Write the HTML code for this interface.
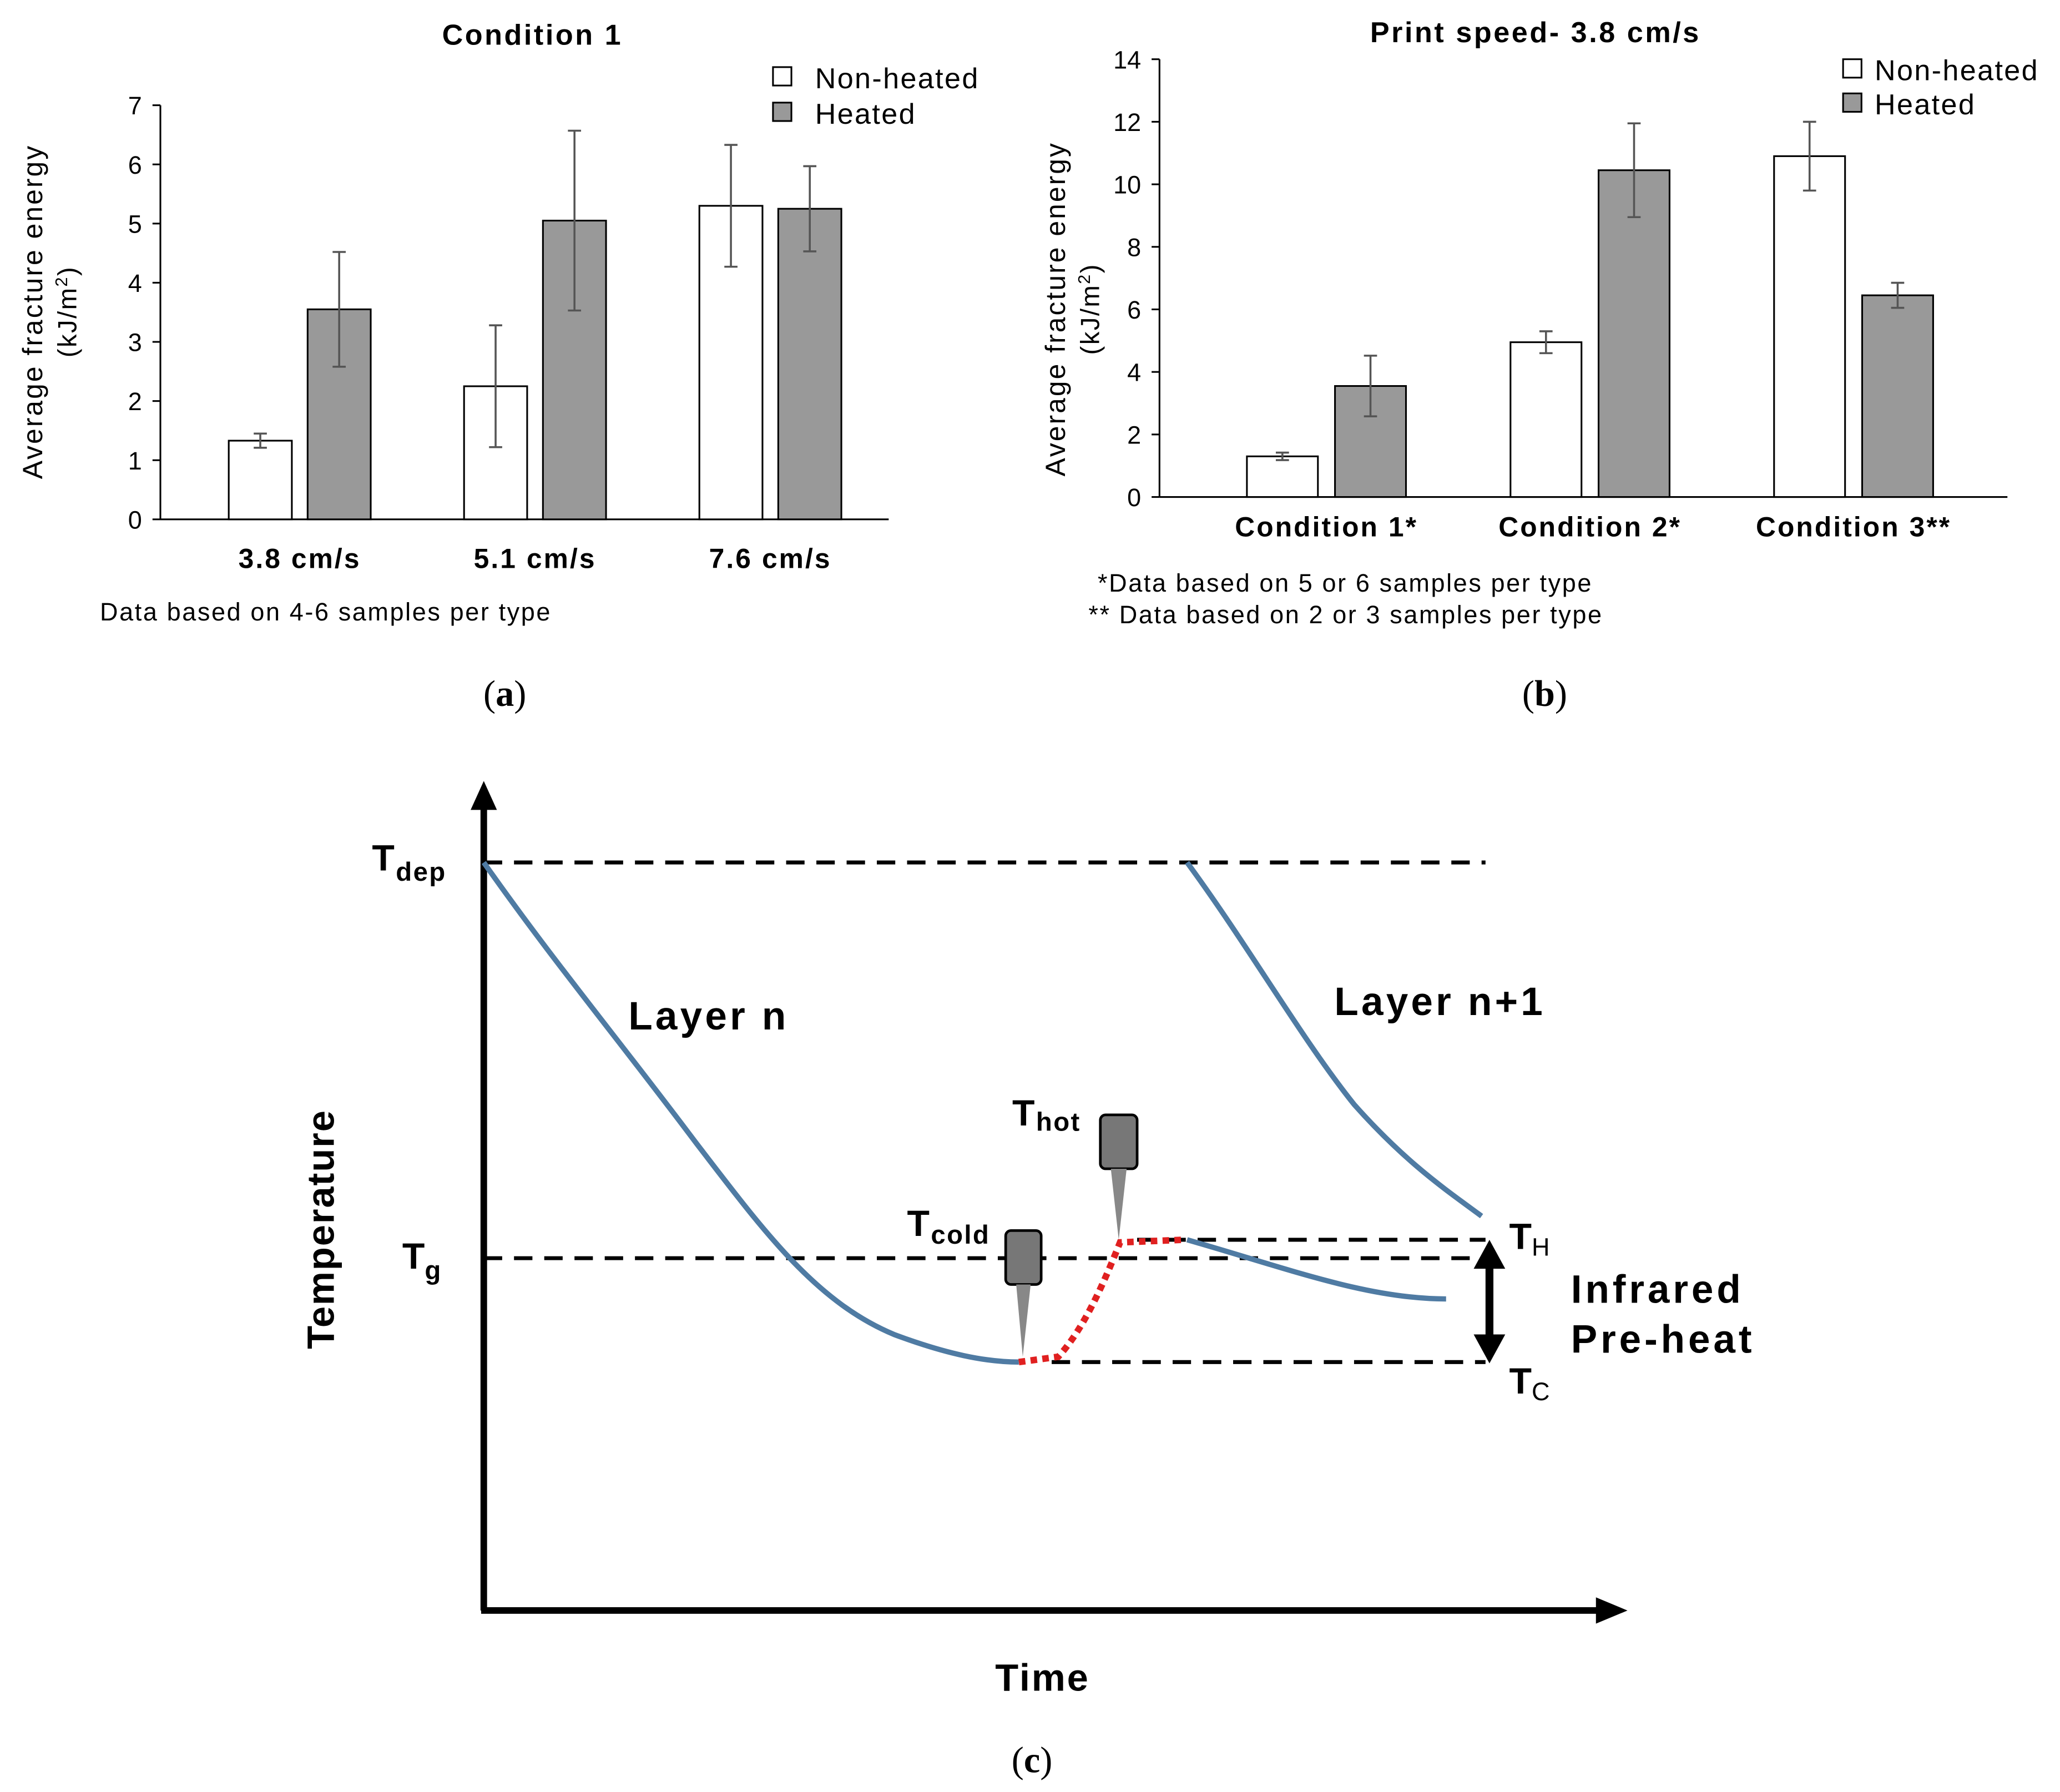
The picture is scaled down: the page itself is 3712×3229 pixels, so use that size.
<!DOCTYPE html>
<html><head><meta charset="utf-8"><style>
html,body{margin:0;padding:0;background:#fff}
svg{display:block}
text{font-family:"Liberation Sans",sans-serif}
</style></head><body>
<svg id="s" xmlns="http://www.w3.org/2000/svg" width="3712" height="3229" viewBox="0 0 1567 1363">
<rect width="1567" height="1363" fill="#fff"/>
<g id="ca">
<text x="405" y="34" font-size="22" font-weight="bold" letter-spacing="1.5" text-anchor="middle">Condition 1</text>
<text transform="translate(32,237) rotate(-90)" font-size="21" letter-spacing="1.3" text-anchor="middle">Average fracture energy</text>
<text transform="translate(58,237) rotate(-90)" font-size="20" letter-spacing="1" text-anchor="middle">(kJ/m<tspan font-size="13" dy="-7">2</tspan><tspan dy="7">)</tspan></text>
<rect x="588" y="51" width="14" height="14" fill="#fff" stroke="#000" stroke-width="1.3"/>
<text x="620" y="67" font-size="22" letter-spacing="1">Non-heated</text>
<rect x="588" y="78" width="14" height="14" fill="#999" stroke="#000" stroke-width="1.3"/>
<text x="620" y="94" font-size="22" letter-spacing="1">Heated</text>
<text x="76" y="472" font-size="19" letter-spacing="1.1">Data based on 4-6 samples per type</text>
</g>
<g id="cb">
<text x="1168" y="32" font-size="22" font-weight="bold" letter-spacing="1.5" text-anchor="middle">Print speed- 3.8 cm/s</text>
<text transform="translate(810,235) rotate(-90)" font-size="21" letter-spacing="1.3" text-anchor="middle">Average fracture energy</text>
<text transform="translate(836,235) rotate(-90)" font-size="20" letter-spacing="1" text-anchor="middle">(kJ/m<tspan font-size="13" dy="-7">2</tspan><tspan dy="7">)</tspan></text>
<rect x="1402" y="45" width="14" height="14" fill="#fff" stroke="#000" stroke-width="1.3"/>
<text x="1426" y="61" font-size="22" letter-spacing="1">Non-heated</text>
<rect x="1402" y="71" width="14" height="14" fill="#999" stroke="#000" stroke-width="1.3"/>
<text x="1426" y="87" font-size="22" letter-spacing="1">Heated</text>
<text x="835" y="450" font-size="19" letter-spacing="1.1">*Data based on 5 or 6 samples per type</text>
<text x="828" y="474" font-size="19" letter-spacing="1.1">** Data based on 2 or 3 samples per type</text>
</g>
<text x="384" y="537" font-size="28" text-anchor="middle" style="font-family:'Liberation Serif',serif">(<tspan font-weight="bold">a</tspan>)</text>
<text x="1175" y="537" font-size="28" text-anchor="middle" style="font-family:'Liberation Serif',serif">(<tspan font-weight="bold">b</tspan>)</text>
<text x="785" y="1348" font-size="28" text-anchor="middle" style="font-family:'Liberation Serif',serif">(<tspan font-weight="bold">c</tspan>)</text>

<g>
<line x1="368" y1="1225" x2="368" y2="612" stroke="#000" stroke-width="5"/>
<polygon points="368,594 358,616 378,616" fill="#000"/>
<line x1="366" y1="1225" x2="1218" y2="1225" stroke="#000" stroke-width="5"/>
<polygon points="1238,1225 1214,1215 1214,1235" fill="#000"/>
<g stroke="#000" stroke-width="3" stroke-dasharray="14,9" fill="none">
<line x1="368" y1="656" x2="1130" y2="656"/>
<line x1="368" y1="957" x2="1130" y2="957"/>
<line x1="865" y1="943" x2="1130" y2="943"/>
<line x1="800" y1="1036" x2="1130" y2="1036"/>
</g>
<path d="M368,656 C420,730 470,790 530,870 C580,935 620,990 680,1015 C720,1030 750,1036 775,1036" stroke="#4f7ba3" stroke-width="4" fill="none"/>
<path d="M903,656 C950,720 990,790 1030,840 C1070,885 1100,905 1127,925" stroke="#4f7ba3" stroke-width="4" fill="none"/>
<path d="M903,943 C980,965 1040,988 1100,988" stroke="#4f7ba3" stroke-width="4" fill="none"/>
<path d="M775,1036 L805,1032 C825,1010 840,975 852,945 L900,943" stroke="#e02020" stroke-width="5" stroke-dasharray="5,4" fill="none"/>
<g>
<rect x="765" y="936" width="27" height="41" rx="4" fill="#777" stroke="#000" stroke-width="2"/>
<polygon points="773,977 784,977 778,1032" fill="#888"/>
</g>
<g>
<rect x="837" y="848" width="28" height="41" rx="4" fill="#777" stroke="#000" stroke-width="2"/>
<polygon points="845,889 857,889 851,943" fill="#888"/>
</g>
<line x1="1133" y1="962" x2="1133" y2="1018" stroke="#000" stroke-width="6"/>
<polygon points="1133,943 1121,965 1145,965" fill="#000"/>
<polygon points="1133,1037 1121,1015 1145,1015" fill="#000"/>
<g font-weight="bold" fill="#000">
<text x="283" y="662" font-size="28" letter-spacing="1">T<tspan font-size="20" dy="8">dep</tspan></text>
<text x="306" y="965" font-size="28">T<tspan font-size="20" dy="8">g</tspan></text>
<text x="478" y="783" font-size="30" letter-spacing="2.2">Layer n</text>
<text x="1015" y="772" font-size="30" letter-spacing="2.2">Layer n+1</text>
<text x="770" y="856" font-size="28" letter-spacing="1">T<tspan font-size="20" dy="4">hot</tspan></text>
<text x="690" y="940" font-size="28" letter-spacing="1">T<tspan font-size="20" dy="6">cold</tspan></text>
<text x="1148" y="950" font-size="28">T<tspan font-size="19" dy="5" font-weight="normal">H</tspan></text>
<text x="1148" y="1060" font-size="28">T<tspan font-size="19" dy="5" font-weight="normal">C</tspan></text>
<text x="1195" y="991" font-size="30" letter-spacing="2.5">Infrared</text>
<text x="1195" y="1029" font-size="30" letter-spacing="2.5">Pre-heat</text>
<text transform="translate(254,935) rotate(-90)" font-size="29" letter-spacing="0.8" text-anchor="middle">Temperature</text>
<text x="793" y="1286" font-size="29" letter-spacing="1.2" text-anchor="middle">Time</text>
</g>
</g>
</svg>
<script>
const aCats=["3.8 cm/s","5.1 cm/s","7.6 cm/s"];
const aNon=[1.33,2.25,5.3];
const aNonErr=[0.12,1.03,1.03];
const aHeat=[3.55,5.05,5.25];
const aHeatErr=[0.97,1.52,0.72];
const aTicks=[0,1,2,3,4,5,6,7];
const bCats=["Condition 1*","Condition 2*","Condition 3**"];
const bNon=[1.3,4.95,10.9];
const bNonErr=[0.12,0.35,1.1];
const bHeat=[3.55,10.45,6.45];
const bHeatErr=[0.97,1.5,0.4];
const bTicks=[0,2,4,6,8,10,12,14];
const NS="http://www.w3.org/2000/svg";
function mk(p,tag,at){const e=document.createElementNS(NS,tag);for(const k in at)e.setAttribute(k,at[k]);p.appendChild(e);return e;}
function chart(g,cfg){
  const y=v=>cfg.y0-(v-cfg.min)/(cfg.max-cfg.min)*(cfg.y0-cfg.y1);
  const ax=mk(g,"line",{x1:cfg.x0,y1:cfg.y1,x2:cfg.x0,y2:cfg.y0,stroke:"#000","stroke-width":1.3});
  
  
  const xx=mk(g,"line",{x1:cfg.x0,y1:cfg.y0,x2:cfg.x1,y2:cfg.y0,stroke:"#000","stroke-width":1.3});
  
  
  cfg.ticks.forEach(t=>{
    mk(g,"line",{x1:cfg.x0-6,y1:y(t),x2:cfg.x0,y2:y(t),stroke:"#000","stroke-width":1.3});
    const tx=mk(g,"text",{x:cfg.x0-14,y:y(t)+7,"font-size":19,"text-anchor":"end"});
    tx.textContent=t;
    
    
  });
  cfg.cats.forEach((c,i)=>{
    const cx=cfg.c0+cfg.step*i;
    const series=[[cfg.non,cfg.nonErr,"#fff",cx-cfg.gap/2-cfg.bw],[cfg.heat,cfg.heatErr,"#999",cx+cfg.gap/2]];
    series.forEach((s,j)=>{
      const v=s[0][i],e=s[1][i],bx=s[3];
      const r=mk(g,"rect",{x:bx,y:y(v),width:cfg.bw,height:cfg.y0-y(v),fill:s[2],stroke:"#000","stroke-width":1.3});
      
      
      const m=bx+cfg.bw/2;
      const eb=mk(g,"path",{d:`M${m},${y(v+e)}V${y(v-e)}M${m-5},${y(v+e)}h10M${m-5},${y(v-e)}h10`,stroke:"#555","stroke-width":1.5,fill:"none"});
      
      
    });
    const lb=mk(g,"text",{x:cx,y:cfg.labY,"font-size":21,"font-weight":"bold","letter-spacing":1.3,"text-anchor":"middle"});
    lb.textContent=c;
    
    
  });
}
chart(document.getElementById("ca"),{x0:122,x1:676,y0:395,y1:80,min:0,max:7,ticks:aTicks,cats:aCats,non:aNon,nonErr:aNonErr,heat:aHeat,heatErr:aHeatErr,bw:48,gap:12,labY:432,c0:228,step:179});
chart(document.getElementById("cb"),{x0:882,x1:1527,y0:378,y1:45,min:0,max:14,ticks:bTicks,cats:bCats,non:bNon,nonErr:bNonErr,heat:bHeat,heatErr:bHeatErr,bw:54,gap:13,labY:408,c0:1009,step:200.5});
</script>
</body></html>
